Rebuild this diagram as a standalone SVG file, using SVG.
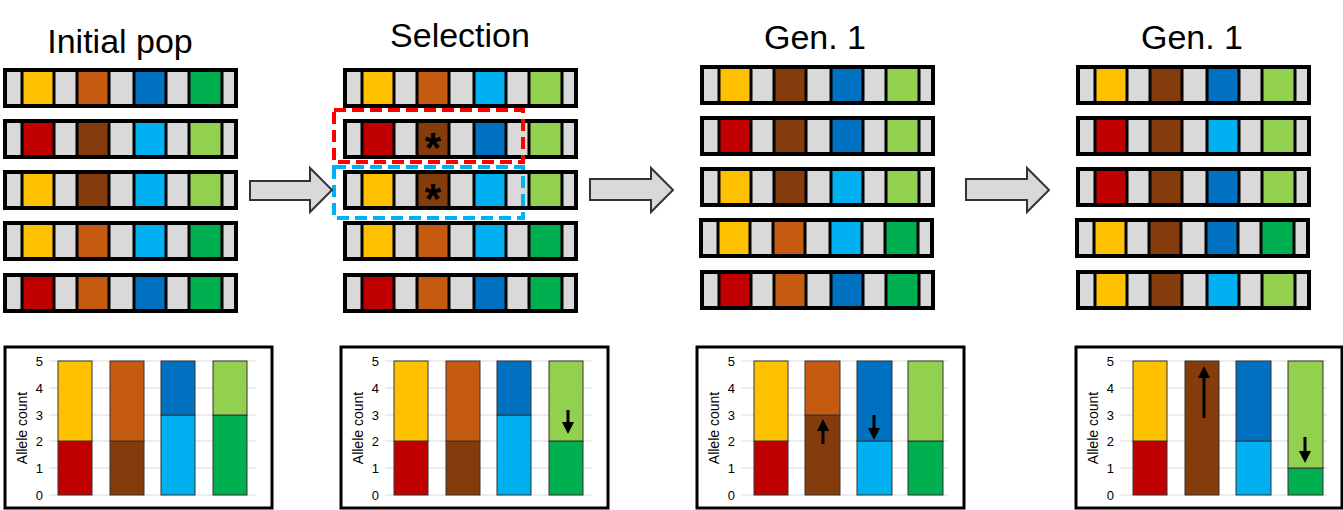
<svg xmlns="http://www.w3.org/2000/svg" width="1343" height="510" viewBox="0 0 1343 510">
<style>
.t{font-family:"Liberation Sans",Arial,sans-serif;font-size:34px;fill:#000;text-anchor:middle}
.tk{font-family:"Liberation Sans",Arial,sans-serif;font-size:13px;fill:#000;text-anchor:end}
.ax{font-family:"Liberation Sans",Arial,sans-serif;font-size:14px;fill:#000;text-anchor:middle}
.g{fill:#D9D9D9}
.Y{fill:#FFC000}.O{fill:#C55A11}.B{fill:#843C0C}.D{fill:#0070C0}.L{fill:#00B0F0}.G{fill:#00B050}.Q{fill:#92D050}.R{fill:#C00000}
.sep{stroke:#000;stroke-width:3}
.frame{fill:none;stroke:#000;stroke-width:4}
.bar{stroke:#333;stroke-width:1}
.grid{stroke:#D9D9D9;stroke-width:1}
.cbox{fill:#fff;stroke:#000;stroke-width:3}
.arr{fill:#D9D9D9;stroke:#333;stroke-width:2}
.star{font-family:"Liberation Sans",Arial,sans-serif;font-size:42px;font-weight:bold;fill:#000;text-anchor:middle}
</style>
<defs>
<g id="chrom-base">
<rect x="0" y="0" width="231" height="36" class="g"/>
</g>
<g id="seps">
<line x1="17" y1="0" x2="17" y2="36" class="sep"/><line x1="49" y1="0" x2="49" y2="36" class="sep"/>
<line x1="72" y1="0" x2="72" y2="36" class="sep"/><line x1="104" y1="0" x2="104" y2="36" class="sep"/>
<line x1="129" y1="0" x2="129" y2="36" class="sep"/><line x1="161" y1="0" x2="161" y2="36" class="sep"/>
<line x1="184" y1="0" x2="184" y2="36" class="sep"/><line x1="217" y1="0" x2="217" y2="36" class="sep"/>
<rect x="0" y="0" width="231" height="36" class="frame"/>
</g>
<g id="axes">
<line x1="49" y1="361" x2="256" y2="361" class="grid"/><line x1="49" y1="388" x2="256" y2="388" class="grid"/>
<line x1="49" y1="415" x2="256" y2="415" class="grid"/><line x1="49" y1="441" x2="256" y2="441" class="grid"/>
<line x1="49" y1="468" x2="256" y2="468" class="grid"/><line x1="49" y1="495" x2="256" y2="495" class="grid"/>
<text x="43" y="366" class="tk">5</text><text x="43" y="393" class="tk">4</text><text x="43" y="420" class="tk">3</text>
<text x="43" y="446" class="tk">2</text><text x="43" y="473" class="tk">1</text><text x="43" y="500" class="tk">0</text>
<text x="0" y="0" class="ax" transform="translate(27,428) rotate(-90)">Allele count</text>
</g>
<marker id="ah" markerWidth="4" markerHeight="4" refX="2" refY="2" orient="auto" markerUnits="strokeWidth"><path d="M0,0 L4,2 L0,4 z" fill="#000"/></marker>
</defs>

<text x="120" y="53" class="t">Initial pop</text>
<text x="460" y="47" class="t">Selection</text>
<text x="815" y="49" class="t">Gen. 1</text>
<text x="1192" y="49" class="t">Gen. 1</text>

<g id="pop-initial">
<g transform="translate(5,70)"><use href="#chrom-base"/><rect x="17" width="32" height="36" class="Y"/><rect x="72" width="32" height="36" class="O"/><rect x="129" width="32" height="36" class="D"/><rect x="184" width="33" height="36" class="G"/><use href="#seps"/></g>
<g transform="translate(5,121)"><use href="#chrom-base"/><rect x="17" width="32" height="36" class="R"/><rect x="72" width="32" height="36" class="B"/><rect x="129" width="32" height="36" class="L"/><rect x="184" width="33" height="36" class="Q"/><use href="#seps"/></g>
<g transform="translate(5,172)"><use href="#chrom-base"/><rect x="17" width="32" height="36" class="Y"/><rect x="72" width="32" height="36" class="B"/><rect x="129" width="32" height="36" class="L"/><rect x="184" width="33" height="36" class="Q"/><use href="#seps"/></g>
<g transform="translate(5,223)"><use href="#chrom-base"/><rect x="17" width="32" height="36" class="Y"/><rect x="72" width="32" height="36" class="O"/><rect x="129" width="32" height="36" class="L"/><rect x="184" width="33" height="36" class="G"/><use href="#seps"/></g>
<g transform="translate(5,275)"><use href="#chrom-base"/><rect x="17" width="32" height="36" class="R"/><rect x="72" width="32" height="36" class="O"/><rect x="129" width="32" height="36" class="D"/><rect x="184" width="33" height="36" class="G"/><use href="#seps"/></g>
</g>

<g id="pop-selection">
<g transform="translate(345,70)"><use href="#chrom-base"/><rect x="17" width="32" height="36" class="Y"/><rect x="72" width="32" height="36" class="O"/><rect x="129" width="32" height="36" class="L"/><rect x="184" width="33" height="36" class="Q"/><use href="#seps"/></g>
<g transform="translate(345,121)"><use href="#chrom-base"/><rect x="17" width="32" height="36" class="R"/><rect x="72" width="32" height="36" class="B"/><rect x="129" width="32" height="36" class="D"/><rect x="184" width="33" height="36" class="Q"/><use href="#seps"/><text x="88" y="41" class="star">*</text></g>
<g transform="translate(345,172)"><use href="#chrom-base"/><rect x="17" width="32" height="36" class="Y"/><rect x="72" width="32" height="36" class="B"/><rect x="129" width="32" height="36" class="L"/><rect x="184" width="33" height="36" class="Q"/><use href="#seps"/><text x="88" y="41" class="star">*</text></g>
<g transform="translate(345,223)"><use href="#chrom-base"/><rect x="17" width="32" height="36" class="Y"/><rect x="72" width="32" height="36" class="O"/><rect x="129" width="32" height="36" class="L"/><rect x="184" width="33" height="36" class="G"/><use href="#seps"/></g>
<g transform="translate(345,275)"><use href="#chrom-base"/><rect x="17" width="32" height="36" class="R"/><rect x="72" width="32" height="36" class="O"/><rect x="129" width="32" height="36" class="D"/><rect x="184" width="33" height="36" class="G"/><use href="#seps"/></g>
<rect x="334" y="110" width="189" height="52" fill="none" stroke="#FF0000" stroke-width="4" stroke-dasharray="12,6"/>
<rect x="334" y="167" width="189" height="51" fill="none" stroke="#00B0F0" stroke-width="4" stroke-dasharray="12,6"/>
</g>

<g id="pop-gen1a">
<g transform="translate(702,67)"><use href="#chrom-base"/><rect x="17" width="32" height="36" class="Y"/><rect x="72" width="32" height="36" class="B"/><rect x="129" width="32" height="36" class="D"/><rect x="184" width="33" height="36" class="Q"/><use href="#seps"/></g>
<g transform="translate(702,118)"><use href="#chrom-base"/><rect x="17" width="32" height="36" class="R"/><rect x="72" width="32" height="36" class="B"/><rect x="129" width="32" height="36" class="D"/><rect x="184" width="33" height="36" class="Q"/><use href="#seps"/></g>
<g transform="translate(702,169)"><use href="#chrom-base"/><rect x="17" width="32" height="36" class="Y"/><rect x="72" width="32" height="36" class="B"/><rect x="129" width="32" height="36" class="L"/><rect x="184" width="33" height="36" class="Q"/><use href="#seps"/></g>
<g transform="translate(701,220)"><use href="#chrom-base"/><rect x="17" width="32" height="36" class="Y"/><rect x="72" width="32" height="36" class="O"/><rect x="129" width="32" height="36" class="L"/><rect x="184" width="33" height="36" class="G"/><use href="#seps"/></g>
<g transform="translate(702,272)"><use href="#chrom-base"/><rect x="17" width="32" height="36" class="R"/><rect x="72" width="32" height="36" class="O"/><rect x="129" width="32" height="36" class="D"/><rect x="184" width="33" height="36" class="G"/><use href="#seps"/></g>
</g>

<g id="pop-gen1b">
<g transform="translate(1078,67)"><use href="#chrom-base"/><rect x="17" width="32" height="36" class="Y"/><rect x="72" width="32" height="36" class="B"/><rect x="129" width="32" height="36" class="D"/><rect x="184" width="33" height="36" class="Q"/><use href="#seps"/></g>
<g transform="translate(1078,118)"><use href="#chrom-base"/><rect x="17" width="32" height="36" class="R"/><rect x="72" width="32" height="36" class="B"/><rect x="129" width="32" height="36" class="L"/><rect x="184" width="33" height="36" class="Q"/><use href="#seps"/></g>
<g transform="translate(1078,169)"><use href="#chrom-base"/><rect x="17" width="32" height="36" class="R"/><rect x="72" width="32" height="36" class="B"/><rect x="129" width="32" height="36" class="D"/><rect x="184" width="33" height="36" class="Q"/><use href="#seps"/></g>
<g transform="translate(1077,220)"><use href="#chrom-base"/><rect x="17" width="32" height="36" class="Y"/><rect x="72" width="32" height="36" class="B"/><rect x="129" width="32" height="36" class="D"/><rect x="184" width="33" height="36" class="G"/><use href="#seps"/></g>
<g transform="translate(1078,272)"><use href="#chrom-base"/><rect x="17" width="32" height="36" class="Y"/><rect x="72" width="32" height="36" class="B"/><rect x="129" width="32" height="36" class="L"/><rect x="184" width="33" height="36" class="Q"/><use href="#seps"/></g>
</g>

<g id="connectors">
<path d="M250,181 H310 V168 L332,190 L310,212 V200 H250 Z" class="arr"/>
<path d="M590,179 H651 V168 L673,190 L651,212 V200 H590 Z" class="arr"/>
<path d="M966,179 H1027 V168 L1049,190 L1027,212 V200 H966 Z" class="arr"/>
</g>

<g id="chart-initial">
<rect x="5" y="347" width="267" height="161" class="cbox"/>
<use href="#axes"/>
<rect x="58" y="441" width="34" height="54" class="R bar"/><rect x="58" y="361" width="34" height="80" class="Y bar"/>
<rect x="110" y="441" width="34" height="54" class="B bar"/><rect x="110" y="361" width="34" height="80" class="O bar"/>
<rect x="161" y="415" width="34" height="80" class="L bar"/><rect x="161" y="361" width="34" height="54" class="D bar"/>
<rect x="213" y="415" width="34" height="80" class="G bar"/><rect x="213" y="361" width="34" height="54" class="Q bar"/>
</g>

<g id="chart-selection" transform="translate(336,0)">
<rect x="5" y="347" width="267" height="161" class="cbox"/>
<use href="#axes"/>
<rect x="58" y="441" width="34" height="54" class="R bar"/><rect x="58" y="361" width="34" height="80" class="Y bar"/>
<rect x="110" y="441" width="34" height="54" class="B bar"/><rect x="110" y="361" width="34" height="80" class="O bar"/>
<rect x="161" y="415" width="34" height="80" class="L bar"/><rect x="161" y="361" width="34" height="54" class="D bar"/>
<rect x="213" y="441" width="34" height="54" class="G bar"/><rect x="213" y="361" width="34" height="80" class="Q bar"/>
<line x1="232" y1="410" x2="232" y2="428" stroke="#000" stroke-width="3" marker-end="url(#ah)"/>
</g>

<g id="chart-gen1a" transform="translate(692,0)">
<rect x="5" y="347" width="267" height="161" class="cbox"/>
<use href="#axes"/>
<rect x="62" y="441" width="34" height="54" class="R bar"/><rect x="62" y="361" width="34" height="80" class="Y bar"/>
<rect x="113" y="415" width="35" height="80" class="B bar"/><rect x="113" y="361" width="35" height="54" class="O bar"/>
<rect x="165" y="441" width="35" height="54" class="L bar"/><rect x="165" y="361" width="35" height="80" class="D bar"/>
<rect x="216" y="441" width="35" height="54" class="G bar"/><rect x="216" y="361" width="35" height="80" class="Q bar"/>
<line x1="131" y1="444" x2="131" y2="425" stroke="#000" stroke-width="3" marker-end="url(#ah)"/>
<line x1="182" y1="415" x2="182" y2="434" stroke="#000" stroke-width="3" marker-end="url(#ah)"/>
</g>

<g id="chart-gen1b" transform="translate(1071,0)">
<rect x="5" y="347" width="266" height="161" class="cbox"/>
<use href="#axes"/>
<rect x="62" y="441" width="34" height="54" class="R bar"/><rect x="62" y="361" width="34" height="80" class="Y bar"/>
<rect x="114" y="361" width="34" height="134" class="B bar"/>
<rect x="165" y="441" width="35" height="54" class="L bar"/><rect x="165" y="361" width="35" height="80" class="D bar"/>
<rect x="217" y="468" width="35" height="27" class="G bar"/><rect x="217" y="361" width="35" height="107" class="Q bar"/>
<line x1="133" y1="418" x2="133" y2="372" stroke="#000" stroke-width="3" marker-end="url(#ah)"/>
<line x1="234" y1="437" x2="234" y2="457" stroke="#000" stroke-width="3" marker-end="url(#ah)"/>
</g>
</svg>
